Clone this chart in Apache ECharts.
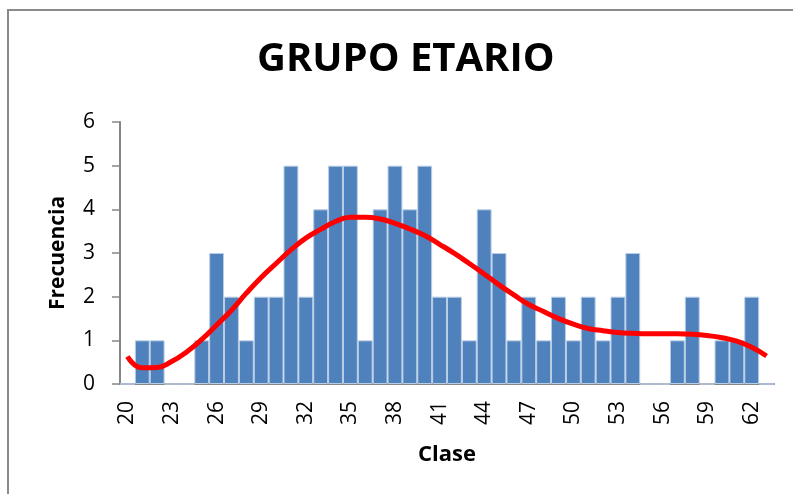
<!DOCTYPE html>
<html>
<head>
<meta charset="utf-8">
<script src="https://cdn.jsdelivr.net/npm/echarts@6/dist/echarts.min.js"></script>
<style>
html,body{margin:0;padding:0;background:#fff;}
#frame{position:absolute;left:7px;top:9px;width:786px;height:485px;border-left:2px solid #8a8a8a;border-top:2px solid #8a8a8a;box-sizing:border-box;}
#chart{position:absolute;left:0;top:0;width:793px;height:494px;}
</style>
</head>
<body>
<div id="frame"></div>
<div id="chart"></div>
<script>
const categories = ['20','21','22','23','24','25','26','27','28','29','30','31','32','33','34','35','36','37','38','39','40','41','42','43','44','45','46','47','48','49','50','51','52','53','54','55','56','57','58','59','60','61','62','63'];
const frequencies = [0,1,1,0,0,1,3,2,1,2,2,5,2,4,5,5,1,4,5,4,5,2,2,1,4,3,1,2,1,2,1,2,1,2,3,0,0,1,2,0,1,1,2,0];
const trendCurve = [0.63,0.37,0.38,0.52,0.74,1.02,1.35,1.69,2.08,2.44,2.76,3.07,3.34,3.54,3.72,3.82,3.82,3.78,3.68,3.55,3.40,3.20,2.99,2.76,2.52,2.27,2.04,1.82,1.66,1.50,1.37,1.27,1.22,1.18,1.16,1.15,1.15,1.15,1.14,1.11,1.06,0.98,0.84,0.64];
const yTicks = [0,1,2,3,4,5,6];

const FONT = 'Open Sans';
const chart = echarts.init(document.getElementById('chart'), null, {renderer:'canvas'});
chart.setOption({
  animation:false,
  backgroundColor:'transparent',
  title:{
    text:'GRUPO ETARIO',
    left:252, top:35,
    textStyle:{fontFamily:FONT,fontSize:40,fontWeight:'bold',color:'#000'}
  },
  grid:{left:120,right:19,top:122,bottom:110,containLabel:false},
  xAxis:{
    type:'category',
    data:categories,
    boundaryGap:true,
    name:'Clase',
    nameLocation:'middle',
    nameGap:60,
    nameTextStyle:{fontFamily:FONT,fontSize:22,fontWeight:'bold',color:'#000'},
    axisLine:{show:true,lineStyle:{color:'#868686',width:2}},
    axisTick:{show:false},
    axisLabel:{
      interval:2,rotate:90,margin:17,
      fontFamily:FONT,fontSize:21,color:'#000'
    },
    splitLine:{show:false}
  },
  yAxis:{
    type:'value',
    min:yTicks[0],max:yTicks[yTicks.length-1],interval:1,
    name:'Frecuencia',
    nameLocation:'middle',
    nameGap:51,
    nameRotate:90,
    nameTextStyle:{fontFamily:FONT,fontSize:21,fontWeight:'bold',color:'#000'},
    axisLine:{show:true,lineStyle:{color:'#868686',width:2}},
    axisTick:{show:true,length:8,inside:false,lineStyle:{color:'#868686',width:1.5}},
    axisLabel:{margin:25,fontFamily:FONT,fontSize:21,color:'#000'},
    splitLine:{show:false}
  },
  series:[
    {
      type:'bar',
      data:frequencies,
      barCategoryGap:'0%',
      barGap:'-100%',
      itemStyle:{color:'#4F81BD',borderColor:'#B9CDE5',borderWidth:1},
      z:2
    },
    {
      type:'line',
      data:trendCurve,
      smooth:true,
      symbol:'none',
      lineStyle:{color:'#FF0000',width:5},
      z:3
    }
  ]
});
</script>
</body>
</html>
